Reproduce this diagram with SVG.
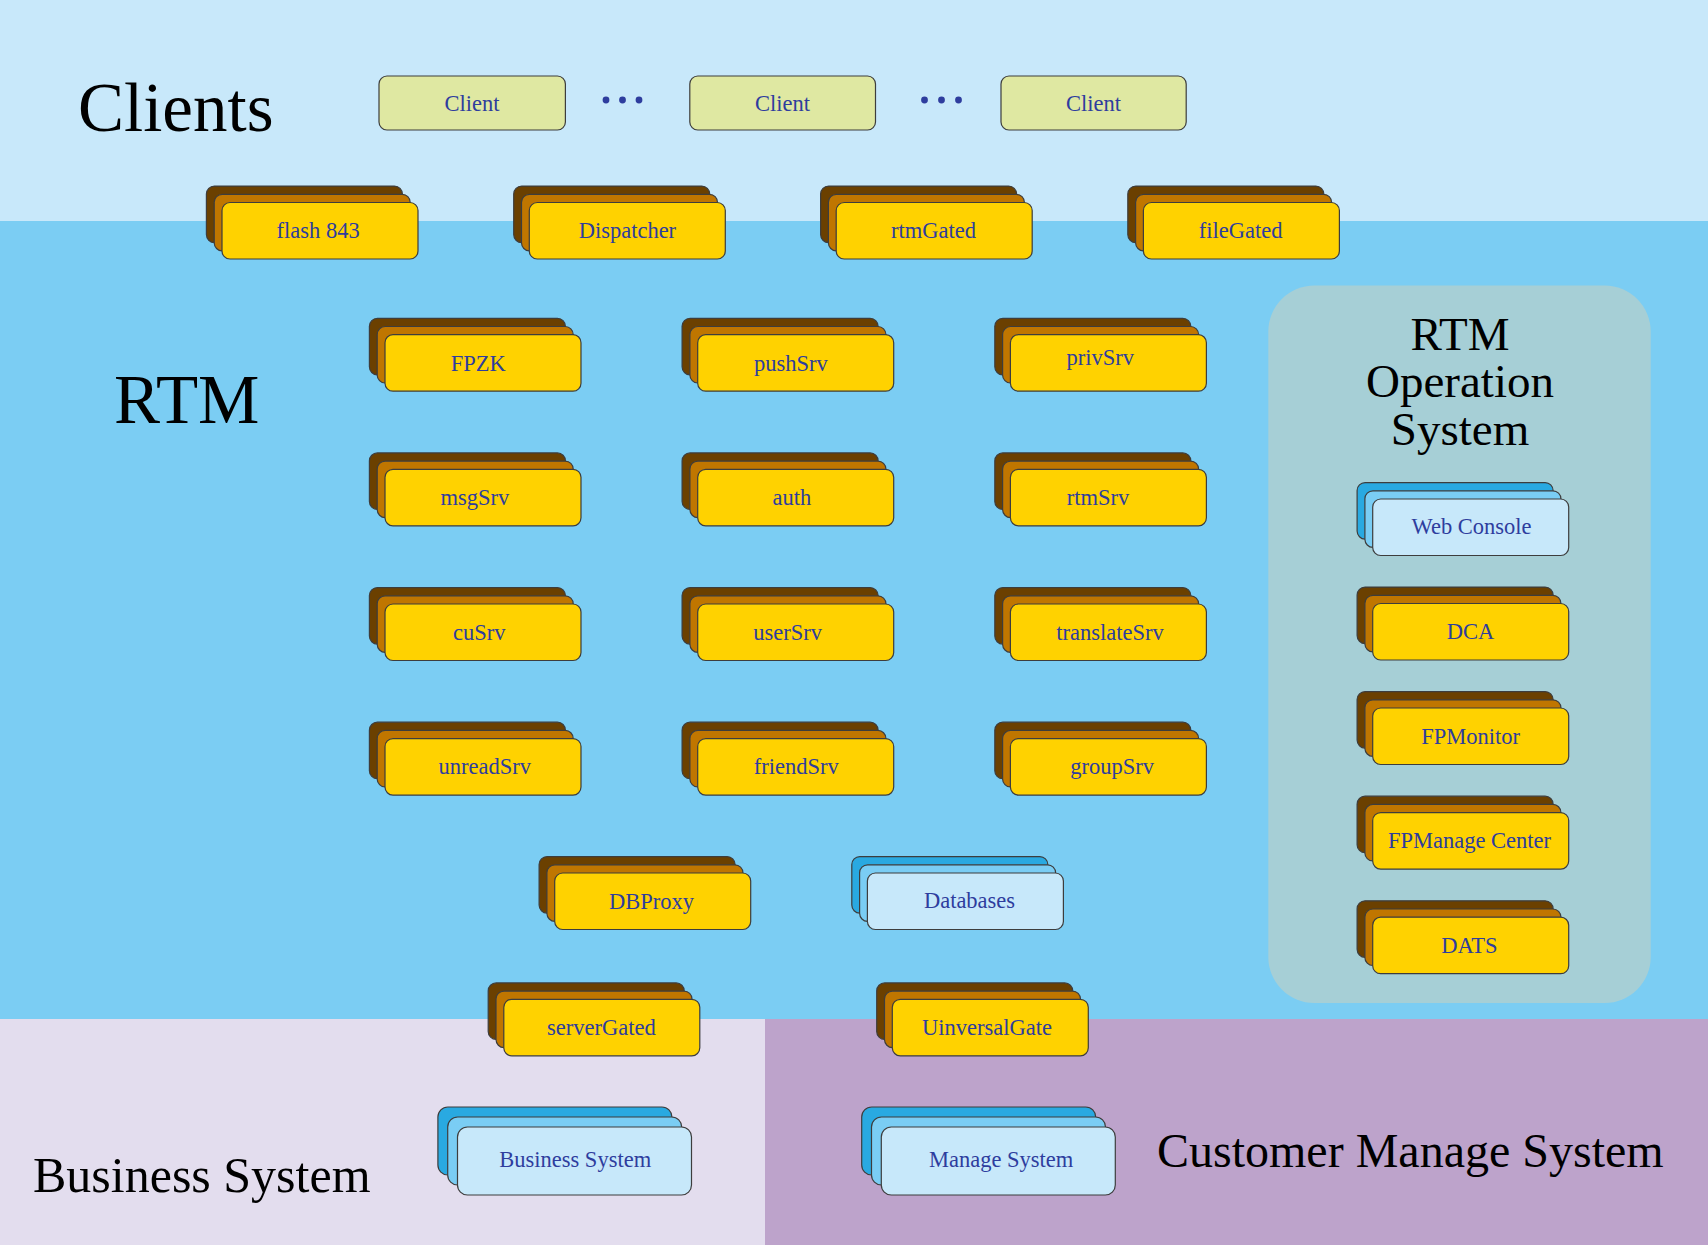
<svg xmlns="http://www.w3.org/2000/svg" width="1708" height="1245" viewBox="0 0 1708 1245">
<style>
.r{stroke:#3d3d3d;stroke-width:1.2}
.b1{fill:#6B4000}
.b2{fill:#C07600}
.b3{fill:#FFD200}
.c1{fill:#29A9E1}
.c2{fill:#7ACDF4}
.c3{fill:#C7E8FA}
.cl{fill:#DFE8A2}
.lbl{font-family:"Liberation Serif",serif;font-size:22.5px;fill:#2E3D9E;text-anchor:middle}
.big{font-family:"Liberation Serif",serif;fill:#000}
.dot{fill:#2E3D9E}
</style>
<g id="background">
<rect x="0" y="0" width="1708" height="221" fill="#C8E8FA"/>
<rect x="0" y="221" width="1708" height="798" fill="#7BCDF3"/>
<rect x="0" y="1019" width="765" height="226" fill="#E3DDEE"/>
<rect x="765" y="1019" width="943" height="226" fill="#BDA3CB"/>
<rect x="1268.3" y="285.5" width="382.4" height="717.5" rx="46" fill="#A6CFD6"/>
</g>
<g id="titles">
<text class="big" x="78" y="130.7" font-size="69">Clients</text>
<text class="big" x="114" y="422.6" font-size="69">RTM</text>
<text class="big" x="1460" y="350" font-size="47" text-anchor="middle">RTM</text>
<text class="big" x="1460" y="397.3" font-size="47" text-anchor="middle">Operation</text>
<text class="big" x="1460" y="445" font-size="47" text-anchor="middle">System</text>
<text class="big" x="33" y="1191.7" font-size="50">Business System</text>
<text class="big" x="1157" y="1166.7" font-size="48">Customer Manage System</text>
</g>
<g id="connectors"></g>
<g id="client1"><rect class="r cl" x="379" y="76" width="186.4" height="54" rx="8"/><text class="lbl" x="472" y="111">Client</text></g>
<g id="client2"><rect class="r cl" x="689.8" y="76" width="185.7" height="54" rx="8"/><text class="lbl" x="782.6" y="111">Client</text></g>
<g id="client3"><rect class="r cl" x="1001" y="76" width="185.2" height="54" rx="8"/><text class="lbl" x="1093.6" y="111">Client</text></g>
<g id="dots1"><circle class="dot" cx="606" cy="100" r="3.4"/><circle class="dot" cx="622.5" cy="100" r="3.4"/><circle class="dot" cx="639" cy="100" r="3.4"/></g>
<g id="dots2"><circle class="dot" cx="924.5" cy="100" r="3.4"/><circle class="dot" cx="941.5" cy="100" r="3.4"/><circle class="dot" cx="958.5" cy="100" r="3.4"/></g>

<g id="flash843"><rect class="r b1" x="206.4" y="186.1" width="196" height="56.5" rx="8"/><rect class="r b2" x="214.2" y="194.3" width="196" height="56.5" rx="8"/><rect class="r b3" x="222" y="202.5" width="196" height="56.5" rx="8"/><text class="lbl" x="318.1" y="238.3">flash 843</text></g>
<g id="dispatcher"><rect class="r b1" x="513.7" y="186.1" width="196" height="56.5" rx="8"/><rect class="r b2" x="521.5" y="194.3" width="196" height="56.5" rx="8"/><rect class="r b3" x="529.3" y="202.5" width="196" height="56.5" rx="8"/><text class="lbl" x="627.4" y="238.3">Dispatcher</text></g>
<g id="rtmGated"><rect class="r b1" x="820.6" y="186.1" width="196" height="56.5" rx="8"/><rect class="r b2" x="828.4" y="194.3" width="196" height="56.5" rx="8"/><rect class="r b3" x="836.2" y="202.5" width="196" height="56.5" rx="8"/><text class="lbl" x="933.5" y="238.3">rtmGated</text></g>
<g id="fileGated"><rect class="r b1" x="1127.8" y="186.1" width="196" height="56.5" rx="8"/><rect class="r b2" x="1135.6" y="194.3" width="196" height="56.5" rx="8"/><rect class="r b3" x="1143.4" y="202.5" width="196" height="56.5" rx="8"/><text class="lbl" x="1240.7" y="238.3">fileGated</text></g>

<g id="FPZK"><rect class="r b1" x="369.4" y="318.3" width="196" height="56.5" rx="8"/><rect class="r b2" x="377.2" y="326.5" width="196" height="56.5" rx="8"/><rect class="r b3" x="385" y="334.7" width="196" height="56.5" rx="8"/><text class="lbl" x="478.2" y="370.5">FPZK</text></g>
<g id="pushSrv"><rect class="r b1" x="682.1" y="318.3" width="196" height="56.5" rx="8"/><rect class="r b2" x="689.9" y="326.5" width="196" height="56.5" rx="8"/><rect class="r b3" x="697.7" y="334.7" width="196" height="56.5" rx="8"/><text class="lbl" x="790.8" y="370.5">pushSrv</text></g>
<g id="privSrv"><rect class="r b1" x="994.8" y="318.3" width="196" height="56.5" rx="8"/><rect class="r b2" x="1002.6" y="326.5" width="196" height="56.5" rx="8"/><rect class="r b3" x="1010.4" y="334.7" width="196" height="56.5" rx="8"/><text class="lbl" x="1100.2" y="365">privSrv</text></g>

<g id="msgSrv"><rect class="r b1" x="369.4" y="452.9" width="196" height="56.5" rx="8"/><rect class="r b2" x="377.2" y="461.1" width="196" height="56.5" rx="8"/><rect class="r b3" x="385" y="469.3" width="196" height="56.5" rx="8"/><text class="lbl" x="474.9" y="505">msgSrv</text></g>
<g id="auth"><rect class="r b1" x="682.1" y="452.9" width="196" height="56.5" rx="8"/><rect class="r b2" x="689.9" y="461.1" width="196" height="56.5" rx="8"/><rect class="r b3" x="697.7" y="469.3" width="196" height="56.5" rx="8"/><text class="lbl" x="791.9" y="505">auth</text></g>
<g id="rtmSrv"><rect class="r b1" x="994.8" y="452.9" width="196" height="56.5" rx="8"/><rect class="r b2" x="1002.6" y="461.1" width="196" height="56.5" rx="8"/><rect class="r b3" x="1010.4" y="469.3" width="196" height="56.5" rx="8"/><text class="lbl" x="1098" y="505">rtmSrv</text></g>

<g id="cuSrv"><rect class="r b1" x="369.4" y="587.6" width="196" height="56.5" rx="8"/><rect class="r b2" x="377.2" y="595.8" width="196" height="56.5" rx="8"/><rect class="r b3" x="385" y="604" width="196" height="56.5" rx="8"/><text class="lbl" x="479.3" y="639.8">cuSrv</text></g>
<g id="userSrv"><rect class="r b1" x="682.1" y="587.6" width="196" height="56.5" rx="8"/><rect class="r b2" x="689.9" y="595.8" width="196" height="56.5" rx="8"/><rect class="r b3" x="697.7" y="604" width="196" height="56.5" rx="8"/><text class="lbl" x="787.6" y="639.8">userSrv</text></g>
<g id="translateSrv"><rect class="r b1" x="994.8" y="587.6" width="196" height="56.5" rx="8"/><rect class="r b2" x="1002.6" y="595.8" width="196" height="56.5" rx="8"/><rect class="r b3" x="1010.4" y="604" width="196" height="56.5" rx="8"/><text class="lbl" x="1110" y="639.8">translateSrv</text></g>

<g id="unreadSrv"><rect class="r b1" x="369.4" y="722.2" width="196" height="56.5" rx="8"/><rect class="r b2" x="377.2" y="730.4" width="196" height="56.5" rx="8"/><rect class="r b3" x="385" y="738.6" width="196" height="56.5" rx="8"/><text class="lbl" x="484.7" y="774.4">unreadSrv</text></g>
<g id="friendSrv"><rect class="r b1" x="682.1" y="722.2" width="196" height="56.5" rx="8"/><rect class="r b2" x="689.9" y="730.4" width="196" height="56.5" rx="8"/><rect class="r b3" x="697.7" y="738.6" width="196" height="56.5" rx="8"/><text class="lbl" x="796.3" y="774.4">friendSrv</text></g>
<g id="groupSrv"><rect class="r b1" x="994.8" y="722.2" width="196" height="56.5" rx="8"/><rect class="r b2" x="1002.6" y="730.4" width="196" height="56.5" rx="8"/><rect class="r b3" x="1010.4" y="738.6" width="196" height="56.5" rx="8"/><text class="lbl" x="1112.2" y="774.4">groupSrv</text></g>

<g id="DBProxy"><rect class="r b1" x="539.1" y="856.6" width="196" height="56.5" rx="8"/><rect class="r b2" x="546.9" y="864.8" width="196" height="56.5" rx="8"/><rect class="r b3" x="554.7" y="873" width="196" height="56.5" rx="8"/><text class="lbl" x="651.4" y="908.8">DBProxy</text></g>
<g id="Databases"><rect class="r c1" x="851.8" y="856.6" width="196" height="56.5" rx="8"/><rect class="r c2" x="859.6" y="864.8" width="196" height="56.5" rx="8"/><rect class="r c3" x="867.4" y="873" width="196" height="56.5" rx="8"/><text class="lbl" x="969.5" y="908">Databases</text></g>

<g id="serverGated"><rect class="r b1" x="488.2" y="982.9" width="196" height="56.5" rx="8"/><rect class="r b2" x="496" y="991.1" width="196" height="56.5" rx="8"/><rect class="r b3" x="503.8" y="999.3" width="196" height="56.5" rx="8"/><text class="lbl" x="601.3" y="1035">serverGated</text></g>
<g id="UinversalGate"><rect class="r b1" x="876.7" y="982.9" width="196" height="56.5" rx="8"/><rect class="r b2" x="884.5" y="991.1" width="196" height="56.5" rx="8"/><rect class="r b3" x="892.3" y="999.3" width="196" height="56.5" rx="8"/><text class="lbl" x="986.9" y="1035">UinversalGate</text></g>

<g id="WebConsole"><rect class="r c1" x="1357.1" y="482.6" width="196" height="56.5" rx="8"/><rect class="r c2" x="1364.9" y="490.8" width="196" height="56.5" rx="8"/><rect class="r c3" x="1372.7" y="499" width="196" height="56.5" rx="8"/><text class="lbl" x="1471.6" y="534">Web Console</text></g>
<g id="DCA"><rect class="r b1" x="1357.1" y="587.1" width="196" height="56.5" rx="8"/><rect class="r b2" x="1364.9" y="595.3" width="196" height="56.5" rx="8"/><rect class="r b3" x="1372.7" y="603.5" width="196" height="56.5" rx="8"/><text class="lbl" x="1470.6" y="639">DCA</text></g>
<g id="FPMonitor"><rect class="r b1" x="1357.1" y="691.6" width="196" height="56.5" rx="8"/><rect class="r b2" x="1364.9" y="699.8" width="196" height="56.5" rx="8"/><rect class="r b3" x="1372.7" y="708" width="196" height="56.5" rx="8"/><text class="lbl" x="1470.6" y="743.5">FPMonitor</text></g>
<g id="FPManageCenter"><rect class="r b1" x="1357.1" y="796.2" width="196" height="56.5" rx="8"/><rect class="r b2" x="1364.9" y="804.4" width="196" height="56.5" rx="8"/><rect class="r b3" x="1372.7" y="812.6" width="196" height="56.5" rx="8"/><text class="lbl" x="1469.5" y="848">FPManage Center</text></g>
<g id="DATS"><rect class="r b1" x="1357.1" y="900.8" width="196" height="56.5" rx="8"/><rect class="r b2" x="1364.9" y="909" width="196" height="56.5" rx="8"/><rect class="r b3" x="1372.7" y="917.2" width="196" height="56.5" rx="8"/><text class="lbl" x="1469.5" y="952.6">DATS</text></g>

<g id="BusinessSystemNode"><rect class="r c1" x="437.9" y="1107" width="234" height="68" rx="10"/><rect class="r c2" x="447.7" y="1117" width="234" height="68" rx="10"/><rect class="r c3" x="457.5" y="1127" width="234" height="68" rx="10"/><text class="lbl" x="575.2" y="1167">Business System</text></g>
<g id="ManageSystemNode"><rect class="r c1" x="861.7" y="1107" width="234" height="68" rx="10"/><rect class="r c2" x="871.5" y="1117" width="234" height="68" rx="10"/><rect class="r c3" x="881.3" y="1127" width="234" height="68" rx="10"/><text class="lbl" x="1001.1" y="1167">Manage System</text></g>
</svg>
